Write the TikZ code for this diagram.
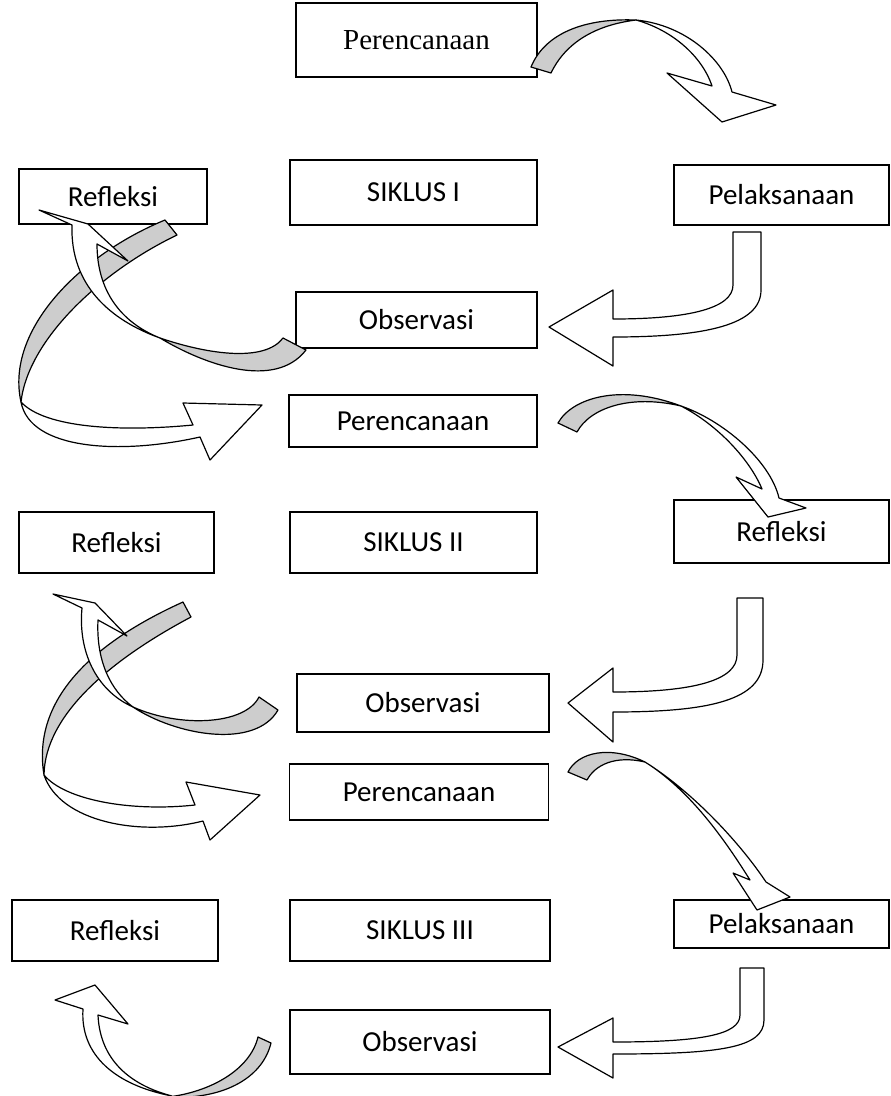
\documentclass[tikz,border=0pt]{standalone}
\usepackage{fontspec}
\setmainfont{Carlito}
\newfontfamily\serifbox{Liberation Serif}
\definecolor{rib}{RGB}{205,205,205}
\tikzset{
  box/.style={draw, line width=1.6pt, fill=white, inner sep=0pt, font=\fontsize{29pt}{34pt}\selectfont},
  ribbon/.style={draw, line width=1.2pt, fill=white, line join=round},
  back/.style={ribbon, fill=rib}
}
\begin{document}
\begin{tikzpicture}[x=1pt, y=-1pt]
\useasboundingbox (0,0) rectangle (891,1096);
% boxes
\node[box, minimum width=241pt, minimum height=74pt, font=\serifbox\fontsize{29pt}{34pt}\selectfont] (per1) at (416.5,40) {Perencanaan};
\node[box, minimum width=188pt, minimum height=55pt] (ref1) at (113,196.5) {Refleksi};
\node[box, minimum width=247pt, minimum height=65pt] (sik1) at (413.5,192.5) {SIKLUS I};
\node[box, minimum width=215pt, minimum height=60pt] (pel1) at (781.5,195) {Pelaksanaan};
\node[box, minimum width=241pt, minimum height=56pt] (obs1) at (416.5,320) {Observasi};
\node[box, minimum width=248pt, minimum height=52pt] (per2) at (413,421) {Perencanaan};
\node[box, minimum width=195pt, minimum height=61pt] (ref2l) at (116.5,542.5) {Refleksi};
\node[box, minimum width=247pt, minimum height=61pt] (sik2) at (413.5,542.5) {SIKLUS II};
\node[box, minimum width=215pt, minimum height=63pt] (ref2r) at (781.5,531.5) {Refleksi};
\node[box, minimum width=252pt, minimum height=58pt] (obs2) at (423,703) {Observasi};
\node[box, minimum width=259pt, minimum height=56pt] (per3) at (419,792) {Perencanaan};
\node[box, minimum width=206pt, minimum height=61pt] (ref3) at (115,930.5) {Refleksi};
\node[box, minimum width=260pt, minimum height=61pt] (sik3) at (420,930.5) {SIKLUS III};
\node[box, minimum width=215pt, minimum height=48pt] (pel3) at (781.5,924) {Pelaksanaan};
\node[box, minimum width=260pt, minimum height=64pt] (obs3) at (420,1042) {Observasi};

% arrow A: per1 -> pel1
\draw[back] (531,67) .. controls (545,33) and (585,18) .. (636,20) .. controls (596,25) and (566,42) .. (551,73) -- cycle;
\draw[ribbon] (636,20) .. controls (686,25) and (724,60) .. (732,92) -- (776,105) -- (722,122) -- (667,73) -- (712,86) .. controls (702,56) and (672,30) .. (636,20) -- cycle;

% arrow B: pel1 -> obs1
\draw[ribbon] (733,232) -- (761,232) -- (761,290) .. controls (761,325) and (705,337) .. (613,337) -- (613,366) -- (549,327) -- (613,290) -- (613,319) .. controls (690,319) and (733,308) .. (733,285) -- cycle;

% cycle 1 big loop: -> per2
\draw[back] (165,220) .. controls (80,255) and (5,330) .. (21,402) .. controls (28,340) and (100,272) .. (177,235) -- cycle;
\draw[ribbon] (21,402) .. controls (30,450) and (120,455) .. (200,437) -- (210,460) -- (262,405) -- (183,403) -- (193,425) .. controls (120,432) and (45,428) .. (21,402) -- cycle;

% cycle 1: obs1 -> ref1
\draw[ribbon] (39,210) -- (88,224) -- (128,261) -- (97,244) .. controls (97,290) and (120,322) .. (160,338) .. controls (110,320) and (70,285) .. (72,225) -- cycle;
\draw[back] (160,338) .. controls (205,365) and (275,390) .. (306,350) -- (283,338) .. controls (265,362) and (210,355) .. (160,338) -- cycle;

% arrow D: per2 -> ref2r
\draw[back] (558,423) .. controls (572,398) and (620,383) .. (681,406) .. controls (630,394) and (590,408) .. (577,432) -- cycle;
\draw[ribbon] (681,406) .. controls (722,420) and (770,460) .. (779,498) -- (806,508) -- (768,517) -- (736,477) -- (762,489) .. controls (750,460) and (718,425) .. (681,406) -- cycle;

% arrow B': ref2r -> obs2
\draw[ribbon] (737,598) -- (763,598) -- (763,660) .. controls (763,700) and (710,712) .. (613,712) -- (613,742) -- (568,703) -- (613,668) -- (613,692) .. controls (695,692) and (737,680) .. (737,655) -- cycle;

% cycle 2 big loop: -> per3
\draw[back] (183,602) .. controls (110,635) and (30,690) .. (44,775) .. controls (45,715) and (110,660) .. (191,617) -- cycle;
\draw[ribbon] (44,775) .. controls (60,822) and (140,837) .. (203,821) -- (210,840) -- (260,795) -- (186,782) -- (195,805) .. controls (130,812) and (65,800) .. (44,775) -- cycle;

% cycle 2: obs2 -> ref2l
\draw[ribbon] (53,594) -- (95,603) -- (127,636) -- (98,620) .. controls (96,660) and (110,690) .. (133,707) .. controls (95,690) and (78,650) .. (82,608) -- cycle;
\draw[back] (133,707) .. controls (175,735) and (255,750) .. (278,710) -- (259,697) .. controls (245,725) and (180,728) .. (133,707) -- cycle;

% arrow E: per3 -> pel3
\draw[back] (568,772) .. controls (578,752) and (610,745) .. (645,762) .. controls (615,755) and (595,765) .. (587,780) -- cycle;
\draw[ribbon] (645,762) .. controls (690,790) and (738,840) .. (766,882) -- (790,897) -- (757,910) -- (733,873) -- (750,880) .. controls (725,840) and (690,790) .. (645,762) -- cycle;

% arrow B'': pel3 -> obs3
\draw[ribbon] (740,968) -- (764,968) -- (764,1020) .. controls (764,1048) and (720,1054) .. (613,1054) -- (613,1078) -- (558,1047) -- (613,1018) -- (613,1042) .. controls (700,1042) and (740,1035) .. (740,1015) -- cycle;

% arrow F: obs3 -> ref3
\draw[back] (271,1043) .. controls (262,1080) and (220,1100) .. (168,1097) .. controls (210,1092) and (250,1070) .. (258,1037) -- cycle;
\draw[ribbon] (55,1000) -- (95,985) -- (128,1024) -- (98,1015) .. controls (100,1060) and (130,1085) .. (172,1096) .. controls (115,1085) and (80,1055) .. (83,1009) -- cycle;
\end{tikzpicture}
\end{document}
